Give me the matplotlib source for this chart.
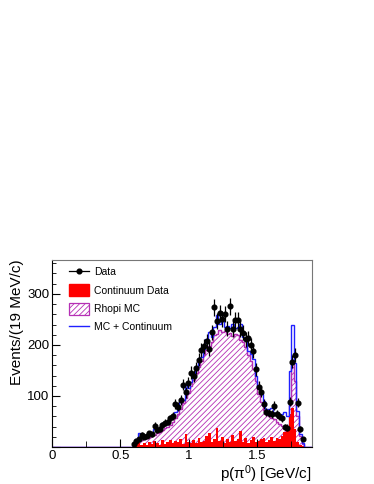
import numpy as np
import matplotlib.pyplot as plt
from matplotlib.ticker import MultipleLocator
from matplotlib.lines import Line2D
from matplotlib.patches import Patch

plt.rcParams['font.family'] = ['Liberation Sans', 'DejaVu Sans']
plt.rcParams['hatch.linewidth'] = 0.6

# ---- binning: 100 bins of 19 MeV/c from 0 to 1.9 GeV/c ----
bin_width = 0.019
n_bins = 100
first_bin = 31   # first filled bin (0.589 GeV/c)

# events per bin, bins 31..96
data_counts = [6, 12, 15, 24, 20, 22, 27, 25, 42, 33,
               35, 43, 48, 50, 56, 60, 84, 79, 92, 122,
               107, 126, 146, 139, 155, 171, 190, 197, 207, 192,
               225, 274, 246, 262, 250, 261, 232, 276, 231, 249,
               248, 231, 224, 211, 213, 200, 189, 152, 118, 108,
               84, 69, 66, 64, 81, 65, 61, 56, 39, 38,
               89, 167, 180, 87, 35, 16]

continuum_counts = [2, 6, 15, 4, 8, 3, 10, 5, 12, 8,
                    4, 14, 6, 10, 13, 8, 12, 9, 15, 6,
                    25, 10, 8, 14, 7, 18, 9, 12, 22, 28,
                    10, 16, 37, 12, 20, 8, 15, 10, 24, 12,
                    16, 31, 10, 18, 8, 14, 20, 9, 12, 15,
                    18, 10, 14, 20, 12, 18, 16, 22, 30, 40,
                    65, 76, 35, 10, 4, 2]

rhopi_mc_counts = [6, 10, 12, 14, 16, 18, 20, 22, 24, 27,
                   30, 33, 37, 40, 44, 50, 56, 64, 74, 86,
                   96, 106, 120, 132, 145, 156, 168, 180, 190, 198,
                   205, 220, 222, 230, 226, 228, 222, 224, 218, 222,
                   220, 210, 205, 195, 180, 168, 152, 130, 104, 88,
                   72, 64, 60, 56, 54, 50, 46, 42, 38, 20,
                   83, 163, 130, 60, 22, 6]

edges = np.arange(n_bins + 1) * bin_width

def full(vals):
    h = np.zeros(n_bins)
    h[first_bin:first_bin + len(vals)] = vals
    return h

data = full(data_counts)
cont = full(continuum_counts)
mc = full(rhopi_mc_counts)
total = mc + cont

fig = plt.figure(figsize=(3.74, 4.84), dpi=100)
ax = fig.add_axes([0.139, 0.0764, 0.695, 0.387])

mag = '#b52fb5'
red = '#ff0000'
blue = '#2020ff'
ax.stairs(mc, edges, fill=True, facecolor='white', edgecolor=mag,
          hatch='//////', linewidth=0.9)
ax.stairs(mc, edges, color=mag, linewidth=0.9)
ax.stairs(cont, edges, fill=True, color=red, linewidth=0)
ax.stairs(total, edges, color=blue, linewidth=1.0)

centers = edges[:-1] + bin_width / 2
sel = data > 0
ax.errorbar(centers[sel], data[sel], yerr=np.sqrt(data[sel]), fmt='o', color='black',
            markersize=3.4, elinewidth=0.9, capsize=0)

ax.set_xlim(0, 1.9)
ax.set_ylim(0, 367)
ax.xaxis.set_major_locator(MultipleLocator(0.5))
ax.xaxis.set_minor_locator(MultipleLocator(0.25))
ax.yaxis.set_major_locator(MultipleLocator(100))
ax.yaxis.set_minor_locator(MultipleLocator(20))
ax.xaxis.set_major_formatter(plt.FuncFormatter(lambda v, p: f'{v:g}'))
ax.yaxis.set_major_formatter(plt.FuncFormatter(lambda v, p: '' if v == 0 else f'{v:g}'))
ax.tick_params(axis='both', which='both', direction='in', labelsize=9.5, pad=2)
ax.tick_params(axis='y', which='major', length=6)
ax.tick_params(axis='y', which='minor', length=3)
ax.tick_params(axis='x', which='major', length=6)
ax.tick_params(axis='x', which='minor', length=4)
for s in ax.spines.values():
    s.set_linewidth(0.8)
for s in ('top', 'right'):
    ax.spines[s].set_color('#777777')

ax.set_ylabel('Events/(19 MeV/c)', fontsize=11, loc='top', labelpad=2)
ax.set_xlabel(r'p($\mathregular{\pi^0}$) [GeV/c]', fontsize=11, loc='right', labelpad=1)

handles = [
    Line2D([], [], color='black', marker='o', markersize=3.4, linewidth=0.9),
    Patch(facecolor=red, edgecolor=red),
    Patch(facecolor='white', edgecolor=mag, hatch='//////', linewidth=0.9),
    Line2D([], [], color=blue, linewidth=1.0),
]
labels = ['Data', 'Continuum Data', 'Rhopi MC', 'MC + Continuum']
ax.legend(handles, labels, loc='upper left', bbox_to_anchor=(0.04, 1.0),
          frameon=False, fontsize=7.5, handlelength=2.0, handleheight=1.4,
          labelspacing=0.6, handletextpad=0.4, borderaxespad=0.2)

fig.savefig('out.png', dpi=100)
